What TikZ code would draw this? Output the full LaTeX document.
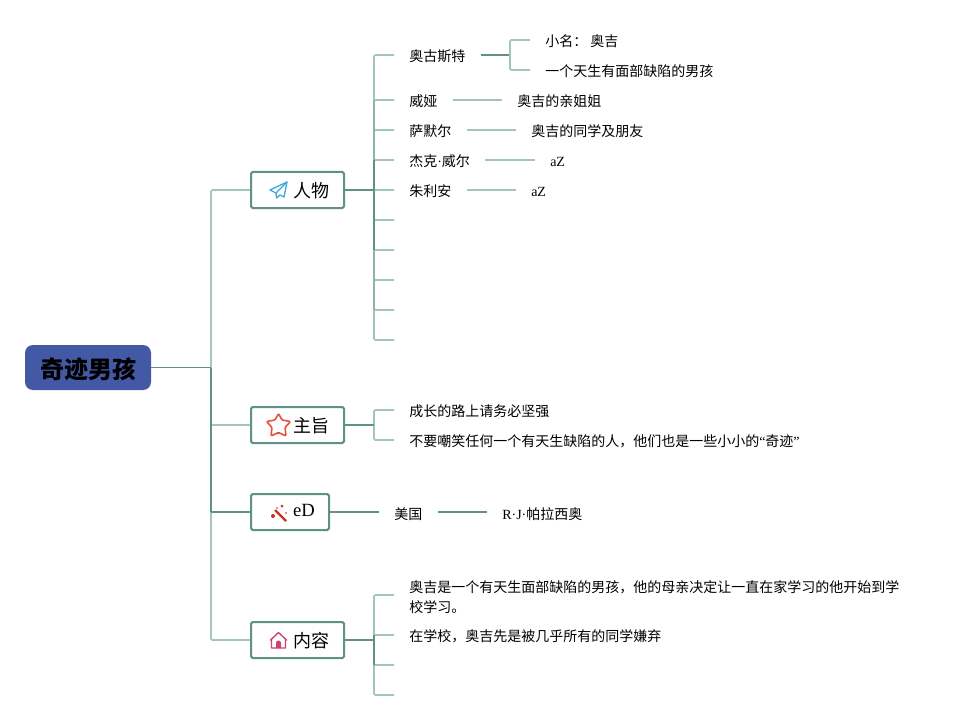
\documentclass[tikz,border=0pt]{standalone}
\usepackage{fontspec}
\setmainfont{Liberation Serif}
\newfontfamily\cjk{Noto Sans CJK SC}
\definecolor{linedark}{HTML}{5F9184}
\definecolor{linemid}{HTML}{8DB4A9}
\definecolor{linelight}{HTML}{A3C5BB}
\definecolor{rootblue}{HTML}{4459A6}
\definecolor{planeblue}{HTML}{3FA7DC}
\definecolor{starred}{HTML}{E4523F}
\definecolor{wandred}{HTML}{C8321F}
\definecolor{homepink}{HTML}{D0406A}
\tikzset{
	rootbox/.style={fill=rootblue, rounded corners=6pt, minimum width=94.5pt, minimum height=33.75pt, inner sep=0pt, text height=18pt, text depth=2.16pt, font=\cjk\fontsize{18}{20}\selectfont\bfseries},
	branchbox/.style={draw=linedark, line width=1.5pt, fill=white, rounded corners=1.2pt, minimum height=27pt, inner sep=0pt, text height=13.1pt, text depth=1.62pt, font=\cjk\fontsize{13.5}{16}\selectfont},
	leaf/.style={anchor=west, inner xsep=11.25pt, inner ysep=0pt, text height=10.2pt, text depth=1pt, font=\cjk\fontsize{10.5}{15}\selectfont},
	lowleaf/.style={leaf, text height=12.4pt},
	darkline/.style={draw=linedark, line width=1.2pt},
	thinline/.style={draw=linedark, line width=0.9pt},
	midline/.style={draw=linemid, line width=1.2pt},
	lightline/.style={draw=linelight, line width=1.2pt, rounded corners=1pt},
}
\begin{document}
\begin{tikzpicture}[x=0.75pt, y=-0.75pt]
	\useasboundingbox (0, 0) rectangle (969, 720);
	%%%%% NODES %%%%%
	\node[rootbox] (root) at (88, 367.5) {奇迹男孩};
	\node[branchbox, minimum width=69.75pt] (people) at (297.5, 190) {\hspace*{20.25pt}人物};
	\node[branchbox, minimum width=69.75pt] (theme) at (297.5, 425) {\hspace*{20.25pt}主旨};
	\node[branchbox, minimum width=58.5pt, text height=10.6pt, text depth=0pt, font=\fontsize{14}{16}\selectfont] (region) at (290, 512) {\raisebox{2.2pt}{\hspace*{21pt}eD}};
	\node[branchbox, minimum width=69.75pt] (story) at (297.5, 640) {\hspace*{20.25pt}内容};
	
	\coordinate (hub) at (211, 367.5);
	\coordinate (peoplehub) at (374, 190);
	\coordinate (themehub) at (374, 425);
	\coordinate (storyhub) at (374, 640);
	\coordinate (augusthub) at (510, 55);
	
	\node[leaf] (august) at (394, 55) {奥古斯特};
	\node[leaf] (via) at (394, 100) {威娅};
	\node[leaf] (summer) at (394, 130) {萨默尔};
	\node[leaf] (jack) at (394, 160) {杰克{\rmfamily ·}威尔};
	\node[leaf] (julian) at (394, 190) {朱利安};
	\foreach \i/\y in {1/220, 2/250, 3/280, 4/310, 5/340}
		\coordinate (blank\i) at (394, \y);
	
	\node[leaf] (nick) at (530, 40) {小名： 奥吉};
	\node[leaf] (face) at (530, 70) {一个天生有面部缺陷的男孩};
	\node[leaf] (viainfo) at (502, 100) {奥吉的亲姐姐};
	\node[leaf] (summerinfo) at (516, 130) {奥吉的同学及朋友};
	\node[leaf, font=\fontsize{10.5}{15}\selectfont] (jackinfo) at (535, 160) {aZ};
	\node[leaf, font=\fontsize{10.5}{15}\selectfont] (julianinfo) at (516, 190) {aZ};
	
	\node[leaf] (strong) at (394, 410) {成长的路上请务必坚强};
	\node[leaf] (mock) at (394, 440) {不要嘲笑任何一个有天生缺陷的人，他们也是一些小小的{\rmfamily “}奇迹{\rmfamily ”}};
	
	\node[lowleaf] (usa) at (379, 512) {美国};
	\node[lowleaf] (author) at (487, 512) {{\rmfamily R·J·}帕拉西奥};
	
	\node[leaf, align=left, text height=9.5pt, text depth=1.5pt] (plot) at (394, 607) {奥吉是一个有天生面部缺陷的男孩，他的母亲决定让一直在家学习的他开始到学\\校学习。};
	\coordinate (plotstub) at (394, 595);
	\node[leaf] (school) at (394, 635) {在学校，奥吉先是被几乎所有的同学嫌弃};
	\coordinate (blank6) at (394, 665);
	\coordinate (blank7) at (394, 695);
	
	%%%%% CONNECTORS %%%%%
	\draw[lightline] (hub) |- (people.west);
	\draw[lightline] (hub) |- (theme.west);
	\draw[lightline] (hub) |- (story.west);
	\draw[darkline] (hub) -- (211, 512);
	\draw[thinline] (root.east) -- (hub);
	\draw[thinline] (211, 512) -- (region.west);
	
	\foreach \n in {august, via, summer, jack, julian, blank1, blank2, blank3, blank4, blank5}
		\draw[lightline] (peoplehub) |- (\n.west);
	\draw[midline] (374, 100) -- (374, 310);
	\draw[darkline] (people.east) -- (peoplehub);
	\draw[darkline] (374, 160) -- (374, 250);
	
	\draw[darkline] (august.east) -- (augusthub);
	\draw[lightline] (augusthub) |- (nick.west);
	\draw[lightline] (augusthub) |- (face.west);
	\draw[lightline] (via.east) -- (viainfo.west);
	\draw[lightline] (summer.east) -- (summerinfo.west);
	\draw[lightline] (jack.east) -- (jackinfo.west);
	\draw[lightline] (julian.east) -- (julianinfo.west);
	
	\draw[lightline] (themehub) |- (strong.west);
	\draw[lightline] (themehub) |- (mock.west);
	\draw[darkline] (theme.east) -- (themehub);
	
	\draw[thinline] (region.east) -- (usa.west);
	\draw[thinline] (usa.east) -- (author.west);
	
	\foreach \n in {plotstub, school, blank6, blank7}
		\draw[lightline] (storyhub) |- (\n);
	\draw[darkline] (374, 635) -- (374, 665);
	\draw[darkline] (story.east) -- (storyhub);
	
	%%%%% ICONS %%%%%
	\draw[color=planeblue, line width=1pt, line join=round] (287, 182) -- (270, 190) -- (276, 193) -- (276.5, 198) -- (280, 195) -- (284, 197) -- cycle;
	\draw[color=planeblue, line width=1pt] (287, 182) -- (276, 193);
	
	\draw[color=starred, line width=1.2pt, line join=round, rounded corners=0.8pt] (278.5, 413.5) -- (282, 420) -- (290.5, 421.5) -- (285, 427.5) -- (286, 436) -- (278.5, 432.5) -- (271, 436) -- (272, 427.5) -- (266.5, 421.5) -- (275, 420) -- cycle;
	
	\draw[color=wandred, line width=1.6pt] (275, 510) -- (286, 521);
	\fill[color=wandred] (273, 516) circle (2);
	\fill[color=wandred] (282, 506) circle (1.5);
	\fill[color=wandred] (286, 513) circle (0.9);
	\fill[color=wandred] (277, 508) circle (0.8);
	
	\draw[color=homepink, line width=1pt, line join=round] (270.5, 640) -- (278.5, 632.5) -- (286.5, 640) -- (285.5, 640) -- (285.5, 648) -- (271.5, 648) -- (271.5, 640) -- cycle;
	\fill[color=homepink] (276, 648) -- (276, 643) arc (180:360:2.5) -- (281, 648) -- cycle;
\end{tikzpicture}
\end{document}
